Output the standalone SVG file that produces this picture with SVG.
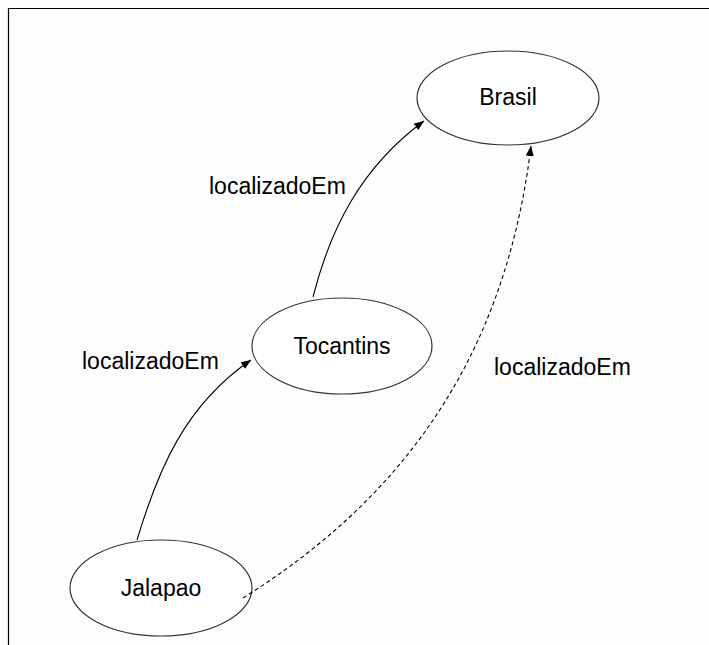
<svg xmlns="http://www.w3.org/2000/svg" width="709" height="645" viewBox="0 0 709 645">
  <style>
    .node ellipse { fill: #ffffff; stroke: #333333; stroke-width: 1.2; }
    .node text, .label { font-family: "Liberation Sans", Arial, sans-serif; font-size: 23px; fill: #000000; }
    .node text { text-anchor: middle; }
    .edge { fill: none; stroke: #000000; stroke-width: 1.1; }
    .dashed { stroke-dasharray: 4 3; }
  </style>
  <defs>
    <marker id="arrow" markerWidth="10" markerHeight="8" refX="10" refY="4" orient="auto" markerUnits="userSpaceOnUse">
      <path d="M0,0 L10,4 L0,8 Z" fill="#000000"/>
    </marker>
  </defs>

  <rect x="0" y="0" width="709" height="645" fill="#fdfdfd"/>
  <!-- frame -->
  <path d="M8.5,645 V8.5 H709" fill="none" stroke="#000000" stroke-width="1.2"/>

  <g id="node-brasil" class="node">
    <ellipse cx="508" cy="98" rx="91" ry="47"/>
    <text x="508" y="105">Brasil</text>
  </g>
  <g id="node-tocantins" class="node">
    <ellipse cx="342" cy="346" rx="90" ry="48"/>
    <text x="342" y="354">Tocantins</text>
  </g>
  <g id="node-jalapao" class="node">
    <ellipse cx="161" cy="588" rx="91" ry="48"/>
    <text x="161" y="596">Jalapao</text>
  </g>

  <g id="connectors">
    <path class="edge" d="M137,540 C158,470 185,405 251,360" marker-end="url(#arrow)"/>
    <path class="edge" d="M313,297 C330,230 360,168 424,121" marker-end="url(#arrow)"/>
    <path class="edge dashed" d="M243,598 C400,500 505,360 531,146" marker-end="url(#arrow)"/>
    <text class="label" x="209" y="194">localizadoEm</text>
    <text class="label" x="82" y="369">localizadoEm</text>
    <text class="label" x="494" y="375">localizadoEm</text>
  </g>
</svg>
